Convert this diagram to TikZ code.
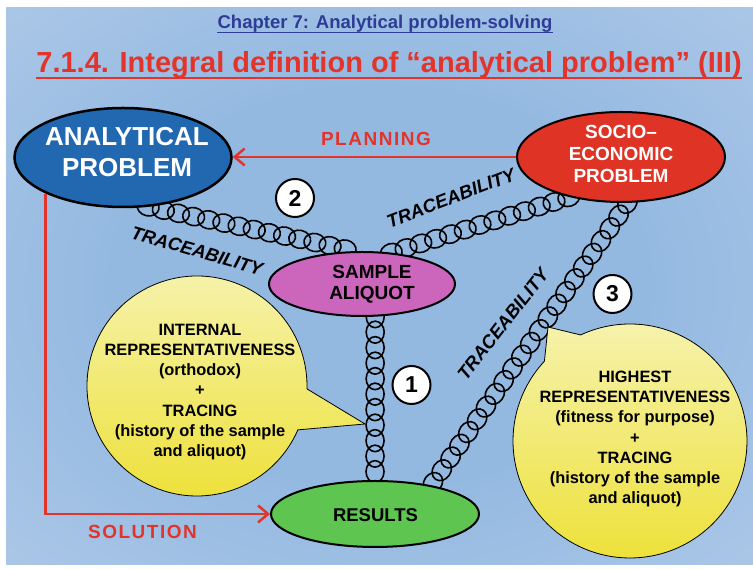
\documentclass[tikz,border=0pt]{standalone}
\usepackage{fontspec}
\setmainfont{Liberation Sans}
\usetikzlibrary{arrows.meta,calc,shapes.geometric,decorations.markings}

\definecolor{apblue}{HTML}{2168B0}
\definecolor{sered}{HTML}{DF3326}
\definecolor{sapink}{HTML}{CC66BC}
\definecolor{resgreen}{HTML}{5DC550}
\definecolor{redline}{HTML}{E2342A}
\definecolor{chapblue}{HTML}{2E3C96}
\definecolor{calltop}{HTML}{F6F3B0}
\definecolor{callbot}{HTML}{EDE035}
\definecolor{bgmid}{HTML}{94B9E1}
\definecolor{bgedge}{HTML}{BDD2EC}
\definecolor{bgcorner}{HTML}{F2E6F4}

\pgfdeclareradialshading{slidebg}{\pgfpoint{0bp}{0bp}}{color(0bp)=(bgmid); color(18bp)=(bgmid); color(50bp)=(bgedge); color(72bp)=(bgcorner)}

\pgfdeclarelayer{background}
\pgfdeclarelayer{chains}
\pgfsetlayers{background,chains,main}

\tikzset{
  bubble/.style={ellipse, draw=black, line width=2pt, inner sep=0pt},
  bubbletext/.style={align=center, inner sep=0pt},
  flow/.style={draw=redline, line width=2.5pt, -{Straight Barb[length=10pt,width=17pt]}},
  flowlabel/.style={font=\bfseries\fontsize{19}{20}\selectfont\addfontfeature{LetterSpace=8}, text=redline},
  linkchain/.style={decoration={markings,
      mark=between positions 0 and 1 step 15.5pt with {\draw[line width=1.6pt] (0,0) ellipse (11pt and 9pt);}},
    decorate},
  tracelabel/.style={font=\bfseries\itshape\fontsize{18.5}{18.5}\selectfont},
  stepnum/.style={circle, draw=black, fill=white, line width=2pt, minimum size=38pt, inner sep=0pt,
    font=\bfseries\fontsize{23}{23}\selectfont},
  callout/.style={draw=black, line width=0.8pt, top color=calltop, bottom color=callbot},
  callouttext/.style={font=\bfseries\fontsize{16.4}{20.2}\selectfont, align=center},
}

\begin{document}
\begin{tikzpicture}[x=1pt,y=1pt]
  \useasboundingbox (0,0) rectangle (753,569);
  \begin{pgfonlayer}{background}
    \fill[white] (0,0) rectangle (753,569);
    \shade[shading=slidebg] (6,4) rectangle (753,561);
  \end{pgfonlayer}

  % titles
  \node[font=\bfseries\fontsize{18.5}{20}\selectfont, text=chapblue, inner sep=0pt, anchor=base] (chapter) at (385,540)
    {Chapter 7: Analytical problem-solving};
  \draw[chapblue, line width=1.5pt] ([yshift=-3.5pt]chapter.base west) -- ([yshift=-3.5pt]chapter.base east);
  \node[font=\bfseries\fontsize{29}{32}\selectfont, text=redline, inner sep=0pt, anchor=base] (title) at (389,496)
    {7.1.4. Integral definition of “analytical problem” (III)};
  \draw[redline, line width=2.5pt] ([yshift=-5pt]title.base west) -- ([yshift=-5pt]title.base east);

  % problems, aliquot and results
  \node[bubble, fill=apblue, line width=2.5pt, minimum width=217pt, minimum height=99pt] (ap) at (123,411.5) {};
  \node[bubbletext, text=white, font=\bfseries\fontsize{26}{31}\selectfont] (ap-text) at (127,416.5) {ANALYTICAL\\PROBLEM};
  \node[bubble, fill=sered, minimum width=208pt, minimum height=90pt] (se) at (621,412) {};
  \node[bubbletext, text=white, font=\bfseries\fontsize{19}{22}\selectfont] (se-text) at (621,415) {SOCIO–\\ECONOMIC\\PROBLEM};
  \node[bubble, fill=sapink, minimum width=186pt, minimum height=64pt] (sa) at (362,285) {};
  \node[bubbletext, font=\bfseries\fontsize{19}{21.5}\selectfont] (sa-text) at (372,285) {SAMPLE\\ALIQUOT};
  \node[bubble, fill=resgreen, minimum width=208pt, minimum height=66pt] (res) at (375,55) {};
  \node[bubbletext, font=\bfseries\fontsize{18.5}{20}\selectfont] (res-text) at (375.5,54) {RESULTS};

  % planning and solution
  \draw[flow] (se.west) -- (se.west -| ap.east);
  \node[flowlabel] (plan-label) at (376,430.5) {PLANNING};
  \draw[flow] (ap.205) |- (res.west);
  \node[flowlabel] (sol-label) at (142.5,37) {SOLUTION};

  % traceability chains
  \begin{pgfonlayer}{chains}
    \path[linkchain] (ap.-63) -- (sa.102);
    \path[linkchain] (sa.47) -- (se.218);
    \path[linkchain] (se.-82) -- (res.27);
    \path[linkchain] (sa.-68) -- (res.north);
  \end{pgfonlayer}
  \node[tracelabel, rotate=-16] (trace-a) at (197,318) {TRACEABILITY};
  \node[tracelabel, rotate=21] (trace-b) at (451,371) {TRACEABILITY};
  \node[tracelabel, rotate=52] (trace-c) at (503,245) {TRACEABILITY};

  \node[stepnum] (n1) at (411.5,184) {1};
  \node[stepnum] (n2) at (295,371) {2};
  \node[stepnum] (n3) at (612.5,275) {3};

  % speech bubbles
  \coordinate (c1) at (197,183);
  \coordinate (tip1) at (365,145);
  \path[callout] ($(c1)+(-1.5:110)$) -- (tip1) -- ($(c1)+(-23.5:110)$)
    arc[start angle=-23.5, end angle=-361.5, radius=110] -- cycle;
  \node[callouttext] (int-text) at (200,177)
    {INTERNAL\\REPRESENTATIVENESS\\(orthodox)\\+\\TRACING\\(history of the sample\\and aliquot)};

  \coordinate (c2) at (630,128);
  \coordinate (tip2) at (548,242);
  \path[callout] ($(c2)+(115:117)$) -- (tip2) -- ($(c2)+(137:117)$)
    arc[start angle=137, end angle=475, radius=117] -- cycle;
  \node[callouttext] (high-text) at (635,130)
    {HIGHEST\\REPRESENTATIVENESS\\(fitness for purpose)\\+\\TRACING\\(history of the sample\\and aliquot)};
\end{tikzpicture}
\end{document}
